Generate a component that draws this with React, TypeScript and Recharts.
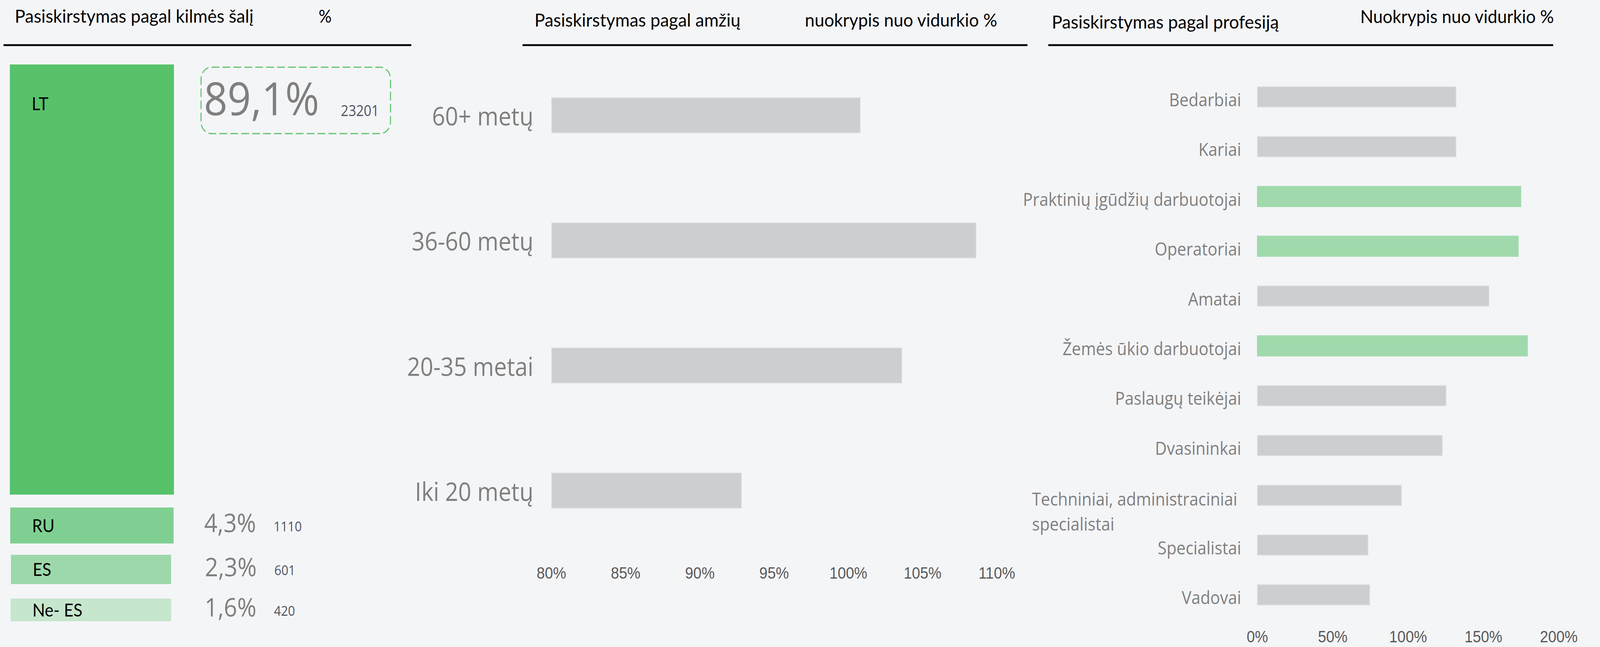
import React from 'react';
import { BarChart, Bar, XAxis, YAxis, Cell } from 'recharts';

// ---------- data ----------
const originNames = ['LT', 'RU', 'ES', 'Ne- ES'];
const originShare = [89.1, 4.3, 2.3, 1.6];
const originCount = [23201, 1110, 601, 420];
const originColors = ['#58c26b', '#80cf92', '#9dd8aa', '#c6e6cd'];

const ageGroups = ['60+ metų', '36-60 metų', '20-35 metai', 'Iki 20 metų'];
const ageDeviation = [100.8, 108.6, 103.6, 92.8];
const ageTicks = [80, 85, 90, 95, 100, 105, 110];

const professions = [
  'Bedarbiai',
  'Kariai',
  'Praktinių įgūdžių darbuotojai',
  'Operatoriai',
  'Amatai',
  'Žemės ūkio darbuotojai',
  'Paslaugų teikėjai',
  'Dvasininkai',
  'Techniniai, administraciniai|specialistai',
  'Specialistai',
  'Vadovai',
];
const professionDeviation = [131.8, 131.8, 174.8, 173.1, 153.7, 179.2, 125.2, 122.7, 95.6, 73.4, 74.5];
const professionTicks = [0, 50, 100, 150, 200];

// ---------- derived tables ----------
const ageData = ageGroups.map((name, i) => ({ name, value: ageDeviation[i] }));
const topThreshold = [...professionDeviation].sort((a, b) => b - a)[2];
const profData = professions.map((name, i) => ({
  name,
  value: professionDeviation[i],
  highlight: professionDeviation[i] >= topThreshold,
}));

// ---------- layout constants ----------
const TILES = [
  { x: 28, y: 165, w: 466, h: 1101 },
  { x: 29, y: 1299, w: 464, h: 92 },
  { x: 31, y: 1420, w: 455, h: 75 },
  { x: 30, y: 1532, w: 456, h: 58 },
];

const OPEN = "'Open Sans', sans-serif";
const LATO = "Lato, sans-serif";
const ARIAL = "'Liberation Sans', Arial, sans-serif";
const GRAY_TEXT = '#7f7f7f';
const BAR_GRAY = '#cdced2';
const BAR_GREEN = '#a0daac';

const fmtPct = (v: number) => v.toFixed(1).replace('.', ',') + '%';

function TileShape(props: any) {
  const { x, y, width, height, fill, index, i } = props;
  const idx = i ?? index ?? 0;
  const big = idx === 0;
  const cy = y + height / 2;
  const nameY = big ? y + 117 : cy + 17;
  return (
    <g>
      <rect x={x} y={y} width={width} height={height} fill={fill} />
      <text x={x + 62} y={nameY} fontFamily={LATO} fontSize={47} fill="#000">
        {originNames[idx]}
      </text>
      {big && (
        <rect
          x={x + 543}
          y={y + 7}
          width={538}
          height={170}
          rx={30}
          ry={30}
          fill="none"
          stroke="#5ec46b"
          strokeWidth={3}
          strokeDasharray="22 9"
        />
      )}
      <text
        x={x + 551}
        y={big ? y + 130 : cy + 17}
        fontFamily={OPEN}
        fontSize={big ? 117 : 66}
        fill={GRAY_TEXT}
      >
        {fmtPct(originShare[idx])}
      </text>
      <text
        x={big ? x + 940 : x + 748}
        y={big ? y + 132 : cy + 15}
        fontFamily={OPEN}
        fontSize={big ? 38 : 35}
        fill="#505462"
      >
        {originCount[idx]}
      </text>
    </g>
  );
}

function OriginTile({ i }: { i: number }) {
  const t = TILES[i];
  const data = [{ name: originNames[i], share: originShare[i] }];
  return (
    <div style={{ position: 'absolute', left: t.x, top: t.y }}>
      <BarChart
        width={t.w}
        height={t.h}
        data={data}
        layout="vertical"
        margin={{ top: 0, right: 0, bottom: 0, left: 0 }}
        barCategoryGap={0}
      >
        <XAxis type="number" hide domain={[0, 'dataMax']} />
        <YAxis type="category" dataKey="name" hide />
        <Bar
          dataKey="share"
          fill={originColors[i]}
          isAnimationActive={false}
          shape={(p: any) => <TileShape {...p} i={i} />}
        />
      </BarChart>
    </div>
  );
}

function AgeYTick(props: any) {
  const { x, y, payload } = props;
  return (
    <text x={x} y={y} dy={26} textAnchor="end" fontFamily={OPEN} fontSize={65} fill={GRAY_TEXT}>
      {payload.value}
    </text>
  );
}

function AgeXTick(props: any) {
  const { x, y, payload } = props;
  return (
    <text x={x} y={y} dy={15} textAnchor="middle" fontFamily={ARIAL} fontSize={42} fill="#595959">
      {payload.value}%
    </text>
  );
}

function ProfYTick(props: any) {
  const { x, y, payload } = props;
  const lines = String(payload.value).split('|');
  if (lines.length > 1) {
    return (
      <text fontFamily={OPEN} fontSize={46} fill={GRAY_TEXT}>
        {lines.map((l, k) => (
          <tspan key={k} x={x - 594} y={y + 27 + k * 64}>
            {l}
          </tspan>
        ))}
      </text>
    );
  }
  return (
    <text x={x} y={y} dy={24} textAnchor="end" fontFamily={OPEN} fontSize={46} fill={GRAY_TEXT}>
      {lines[0]}
    </text>
  );
}

function ProfXTick(props: any) {
  const { x, y, payload } = props;
  return (
    <text x={x} y={y} dy={9} textAnchor="middle" fontFamily={ARIAL} fontSize={42} fill="#595959">
      {payload.value}%
    </text>
  );
}

export default function App() {
  const vw = typeof window !== 'undefined' ? window.innerWidth : 4544;
  const sx = Math.min(1, vw / 4544);
  return (
    <div
      style={{
        position: 'fixed',
        left: 0,
        top: 0,
        width: '100vw',
        height: '100vh',
        overflow: 'hidden',
        background: '#f4f5f7',
      }}
    >
      <div
        style={{
          position: 'absolute',
          left: 0,
          top: 0,
          width: 4544,
          height: 1656,
          background: '#f4f5f7',
          overflow: 'hidden',
          transform: `scaleX(${sx})`,
          transformOrigin: '0 0',
        }}
      >
        <style>{`.recharts-surface{overflow:visible}`}</style>
        <svg width={4544} height={1656} style={{ position: 'absolute', left: 0, top: 0 }}>
          <g fontFamily={LATO} fontSize={46} fill="#000">
            <text x={42} y={58} textLength={678} lengthAdjust="spacingAndGlyphs">
              Pasiskirstymas pagal kilmės šalį
            </text>
            <text x={905} y={58}>%</text>
            <text x={1518} y={68} textLength={585} lengthAdjust="spacingAndGlyphs">
              Pasiskirstymas pagal amžių
            </text>
            <text x={2286} y={68} textLength={546} lengthAdjust="spacingAndGlyphs">
              nuokrypis nuo vidurkio %
            </text>
            <text x={2987} y={73} textLength={645} lengthAdjust="spacingAndGlyphs">
              Pasiskirstymas pagal profesiją
            </text>
            <text x={3863} y={59} textLength={550} lengthAdjust="spacingAndGlyphs">
              Nuokrypis nuo vidurkio %
            </text>
          </g>
          <rect x={10} y={113} width={1158} height={5} fill="#0d0d0d" />
          <rect x={1484} y={113} width={1434} height={5} fill="#0d0d0d" />
          <rect x={2977} y={113} width={1434} height={5} fill="#0d0d0d" />
        </svg>

        {originNames.map((_, i) => (
          <OriginTile key={i} i={i} />
        ))}

        <div style={{ position: 'absolute', left: 1100, top: 100 }}>
          <BarChart
            width={1850}
            height={1500}
            data={ageData}
            layout="vertical"
            margin={{ top: 35, right: 119, bottom: 84, left: 66 }}
            barSize={90}
          >
            <XAxis
              type="number"
              domain={[80, 110]}
              ticks={ageTicks}
              interval={0}
              allowDataOverflow
              axisLine={false}
              tickLine={false}
              tickSize={0}
              tickMargin={50}
              height={100}
              tick={(p: any) => <AgeXTick {...p} />}
            />
            <YAxis
              type="category"
              dataKey="name"
              width={400}
              interval={0}
              axisLine={false}
              tickLine={false}
              tickSize={0}
              tickMargin={51}
              tick={(p: any) => <AgeYTick {...p} />}
            />
            <Bar dataKey="value" fill={BAR_GRAY} stroke="#dfe0e3" strokeWidth={2} isAnimationActive={false} />
          </BarChart>
        </div>

        <div style={{ position: 'absolute', left: 2880, top: 150 }}>
          <BarChart
            width={1650}
            height={1506}
            data={profData}
            layout="vertical"
            margin={{ top: 34, right: 103, bottom: 0, left: 0 }}
            barSize={52}
          >
            <XAxis
              type="number"
              domain={[0, 200]}
              ticks={professionTicks}
              interval={0}
              axisLine={false}
              tickLine={false}
              tickSize={0}
              tickMargin={49}
              height={70}
              tick={(p: any) => <ProfXTick {...p} />}
            />
            <YAxis
              type="category"
              dataKey="name"
              width={691}
              interval={0}
              axisLine={false}
              tickLine={false}
              tickSize={0}
              tickMargin={46}
              tick={(p: any) => <ProfYTick {...p} />}
            />
            <Bar dataKey="value" isAnimationActive={false}>
              {profData.map((d, i) => (
                <Cell
                  key={i}
                  fill={d.highlight ? BAR_GREEN : BAR_GRAY}
                  stroke={d.highlight ? BAR_GREEN : '#dfe0e3'}
                  strokeWidth={2}
                />
              ))}
            </Bar>
          </BarChart>
        </div>
      </div>
    </div>
  );
}
